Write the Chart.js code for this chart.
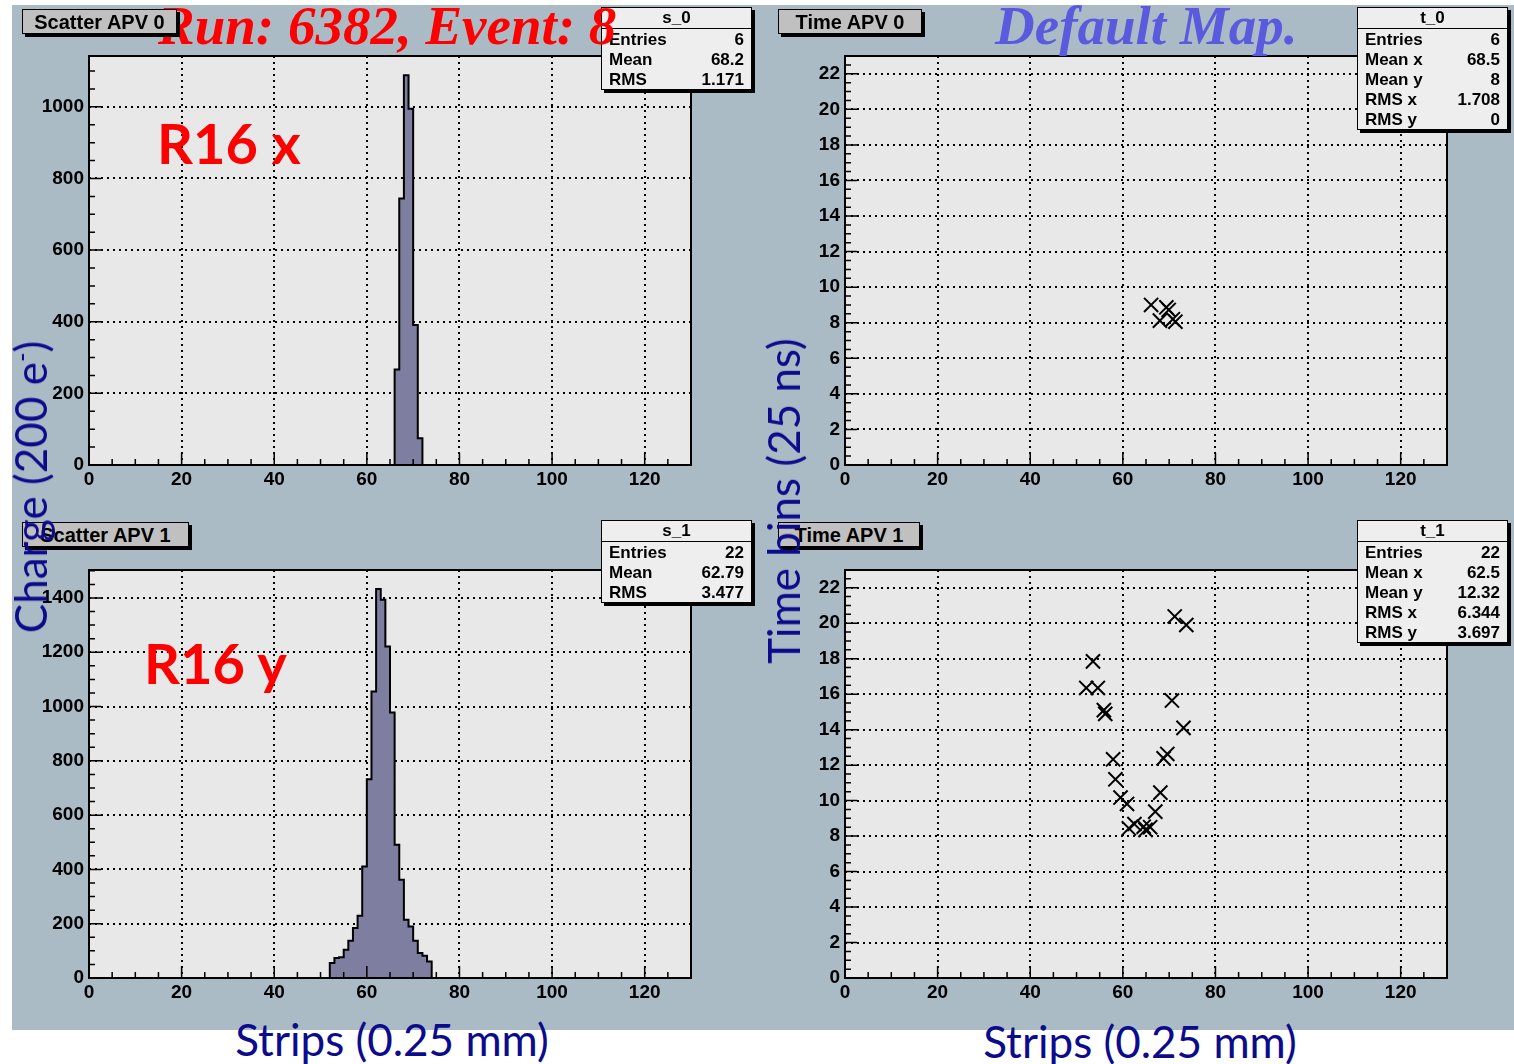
<!DOCTYPE html>
<html>
<head>
<meta charset="utf-8">
<script src="https://cdn.jsdelivr.net/npm/chart.js@4.4.0/dist/chart.umd.min.js"></script>
<style>
  body { margin: 0; background: #fff; width: 1514px; height: 1064px; position: relative; overflow: hidden; }
  #panel { position: absolute; left: 12px; top: 5px; width: 1502px; height: 1025px; background: #aabbc6; }
  canvas { position: absolute; }
  .apv { position: absolute; height: 23px; background: #c0c0c0; border: 1.5px solid #000; box-shadow: 3px 3px 0 #000;
         font: bold 20px "Liberation Sans", Arial, sans-serif; line-height: 24px; text-align: center; z-index: 3; }
  .stat { position: absolute; width: 149px; background: #eeeeee; border: 1.5px solid #000; box-shadow: 3px 3px 0 #000;
          font: bold 17px "Liberation Sans", Arial, sans-serif; z-index: 1; }
  .stat .h { text-align: center; height: 20px; line-height: 20px; border-bottom: 1.5px solid #000; }
  .stat .r { display: flex; justify-content: space-between; padding: 0 7px; height: 20px; line-height: 22px; }
  .big { position: absolute; font: italic bold 55px "Liberation Serif", serif; line-height: 1; white-space: nowrap; z-index: 2; }
  .lab { position: absolute; font: bold 56px Lato, sans-serif; line-height: 1; color: #ff0000; white-space: nowrap; z-index: 2; }
  .axt { position: absolute; font: 44px Lato, sans-serif; line-height: 1; color: #0b0b8c; white-space: nowrap; z-index: 4; }
  .rot { transform: translate(-50%, -50%) rotate(-90deg); }
</style>
</head>
<body>
<div id="panel"></div>

<canvas id="s0" width="672" height="449" style="left:29px;top:46px"></canvas>
<canvas id="t0" width="672" height="449" style="left:785px;top:46px"></canvas>
<canvas id="s1" width="672" height="448" style="left:29px;top:560px"></canvas>
<canvas id="t1" width="672" height="448" style="left:785px;top:560px"></canvas>

<div class="big" style="left:158px;top:-2px;color:#ff0000">Run: 6382, Event: 8</div>
<div class="big" style="left:995px;top:-2px;color:#5a5ade">Default Map.</div>
<div class="lab" style="left:157px;top:115px">R16 x</div>
<div class="lab" style="left:144px;top:635px">R16 y</div>

<div class="apv" style="left:22px;top:9px;width:153px">Scatter APV 0</div>
<div class="apv" style="left:778px;top:9px;width:142px">Time APV 0</div>
<div class="apv" style="left:22px;top:522px;width:165px">Scatter APV 1</div>
<div class="apv" style="left:778px;top:522px;width:140px">Time APV 1</div>

<div class="stat" style="left:601px;top:7px">
  <div class="h">s_0</div>
  <div class="r"><span>Entries</span><span>6</span></div>
  <div class="r"><span>Mean</span><span>68.2</span></div>
  <div class="r"><span>RMS</span><span>1.171</span></div>
</div>
<div class="stat" style="left:1357px;top:7px">
  <div class="h">t_0</div>
  <div class="r"><span>Entries</span><span>6</span></div>
  <div class="r"><span>Mean x</span><span>68.5</span></div>
  <div class="r"><span>Mean y</span><span>8</span></div>
  <div class="r"><span>RMS x</span><span>1.708</span></div>
  <div class="r"><span>RMS y</span><span>0</span></div>
</div>
<div class="stat" style="left:601px;top:520px">
  <div class="h">s_1</div>
  <div class="r"><span>Entries</span><span>22</span></div>
  <div class="r"><span>Mean</span><span>62.79</span></div>
  <div class="r"><span>RMS</span><span>3.477</span></div>
</div>
<div class="stat" style="left:1357px;top:520px">
  <div class="h">t_1</div>
  <div class="r"><span>Entries</span><span>22</span></div>
  <div class="r"><span>Mean x</span><span>62.5</span></div>
  <div class="r"><span>Mean y</span><span>12.32</span></div>
  <div class="r"><span>RMS x</span><span>6.344</span></div>
  <div class="r"><span>RMS y</span><span>3.697</span></div>
</div>

<div class="axt rot" style="left:30px;top:487px">Charge (200 e<sup style="font-size:26px">-</sup>)</div>
<div class="axt rot" style="left:783px;top:501px">Time bins (25 ns)</div>
<div class="axt" style="left:392px;top:1017px;transform:translateX(-50%)">Strips (0.25 mm)</div>
<div class="axt" style="left:1140px;top:1019px;transform:translateX(-50%)">Strips (0.25 mm)</div>

<script>
// histogram bin edges (strips) and charge per bin
const s0Edges = [66, 67, 68, 69, 70, 71, 72];
const s0Charge = [267, 744, 1088, 995, 391, 75];
const s1Edges = [52, 53, 54, 55, 56, 57, 58, 59, 60, 61, 62, 63, 64, 65, 66, 67, 68, 69, 70, 71, 72, 73, 74];
const s1Charge = [55, 74, 76, 104, 137, 184, 229, 411, 732, 1055, 1433, 1393, 1221, 978, 491, 362, 215, 190, 137, 92, 82, 61];

// scatter: strip vs time bin (as drawn)
const t0Strips = [66.1, 68.0, 69.4, 69.9, 70.8, 71.35];
const t0Bins = [9.0, 8.12, 8.87, 8.72, 8.2, 8.06];
const t1Strips = [71.2, 73.7, 53.55, 52.1, 54.6, 55.9, 56.2, 70.6, 73.1, 57.9, 69.6, 68.8, 58.4, 59.5, 60.9, 68.1, 67.0, 61.3, 62.5, 64.5, 65.9, 64.9];
const t1Bins = [20.38, 19.9, 17.85, 16.35, 16.35, 15.1, 14.89, 15.64, 14.1, 12.33, 12.63, 12.38, 11.2, 10.17, 9.81, 10.45, 9.38, 8.44, 8.68, 8.53, 8.5, 8.35];

const tickFont = { family: 'Liberation Sans', size: 19, weight: 'bold' };

// grey frame, root style inner ticks
const rootFrame = {
  id: 'rootFrame',
  beforeDraw(chart) {
    const a = chart.chartArea, ctx = chart.ctx;
    ctx.save();
    ctx.fillStyle = '#e8e8e8';
    ctx.fillRect(a.left, a.top, a.right - a.left, a.bottom - a.top);
    ctx.restore();
  },
  afterDraw(chart, args, o) {
    const a = chart.chartArea, ctx = chart.ctx;
    const sx = chart.scales.x, sy = chart.scales.y;
    ctx.save();
    ctx.strokeStyle = '#000';
    ctx.lineWidth = 1.5;
    ctx.beginPath();
    for (let v = sx.min; v <= sx.max + 1e-9; v += o.xMinor) {
      const len = Math.abs(v / o.xMajor - Math.round(v / o.xMajor)) < 1e-6 ? 12 : 6;
      const px = sx.getPixelForValue(v);
      ctx.moveTo(px, a.bottom);
      ctx.lineTo(px, a.bottom - len);
    }
    for (let v = sy.min; v <= sy.max + 1e-9; v += o.yMinor) {
      const len = Math.abs(v / o.yMajor - Math.round(v / o.yMajor)) < 1e-6 ? 12 : 6;
      const py = sy.getPixelForValue(v);
      ctx.moveTo(a.left, py);
      ctx.lineTo(a.left + len, py);
    }
    ctx.stroke();
    ctx.lineWidth = 2;
    ctx.strokeRect(a.left, a.top, a.right - a.left, a.bottom - a.top);
    ctx.restore();
  }
};

function stepTicks(s, step) {
  const t = [];
  for (let v = 0; v <= s.max + 1e-9; v += step) t.push({ value: v });
  s.ticks = t;
}

function axes(yMax, yStep) {
  return {
    x: {
      type: 'linear', min: 0, max: 130,
      afterBuildTicks: s => stepTicks(s, 20),
      afterFit: s => { s.height = 30; s.paddingLeft = 0; s.paddingRight = 0; },
      ticks: { autoSkip: false, maxRotation: 0, padding: 3, color: '#000', font: tickFont, callback: v => String(v) },
      grid: { color: '#000', lineWidth: 2, drawTicks: false },
      border: { display: false, dash: [2, 4] }
    },
    y: {
      min: 0, max: yMax,
      afterBuildTicks: s => stepTicks(s, yStep),
      afterFit: s => { s.width = 60; s.paddingTop = 0; s.paddingBottom = 0; },
      ticks: { autoSkip: false, padding: 5, color: '#000', font: tickFont, callback: v => String(v) },
      grid: { color: '#000', lineWidth: 2, drawTicks: false },
      border: { display: false, dash: [2, 4] }
    }
  };
}

function histPoints(edges, values) {
  const pts = [{ x: edges[0], y: 0 }];
  values.forEach((v, i) => pts.push({ x: edges[i], y: v }));
  pts.push({ x: edges[edges.length - 1], y: 0 });
  return pts;
}

function histChart(id, edges, values, yMax) {
  return new Chart(document.getElementById(id), {
    type: 'line',
    data: {
      datasets: [{
        data: histPoints(edges, values),
        stepped: true,
        fill: 'origin',
        backgroundColor: '#7e7ea0',
        borderColor: '#000',
        borderWidth: 2,
        pointRadius: 0
      }]
    },
    options: {
      responsive: false,
      animation: false,
      layout: { autoPadding: false, padding: { top: 10, right: 10, left: 0, bottom: 0 } },
      plugins: { legend: { display: false }, tooltip: { enabled: false },
                 rootFrame: { xMajor: 20, xMinor: 5, yMajor: 200, yMinor: 50 } },
      scales: axes(yMax, 200)
    },
    plugins: [rootFrame]
  });
}

function scatterChart(id, xs, ys) {
  return new Chart(document.getElementById(id), {
    type: 'scatter',
    data: {
      datasets: [{
        data: xs.map((x, i) => ({ x: x, y: ys[i] })),
        pointStyle: 'crossRot',
        pointRadius: 10,
        borderColor: '#000',
        borderWidth: 2
      }]
    },
    options: {
      responsive: false,
      animation: false,
      layout: { autoPadding: false, padding: { top: 10, right: 10, left: 0, bottom: 0 } },
      plugins: { legend: { display: false }, tooltip: { enabled: false },
                 rootFrame: { xMajor: 20, xMinor: 5, yMajor: 2, yMinor: 0.5 } },
      scales: axes(23, 2)
    },
    plugins: [rootFrame]
  });
}

histChart('s0', s0Edges, s0Charge, 1142);
histChart('s1', s1Edges, s1Charge, 1503);
scatterChart('t0', t0Strips, t0Bins);
scatterChart('t1', t1Strips, t1Bins);
</script>
</body>
</html>
